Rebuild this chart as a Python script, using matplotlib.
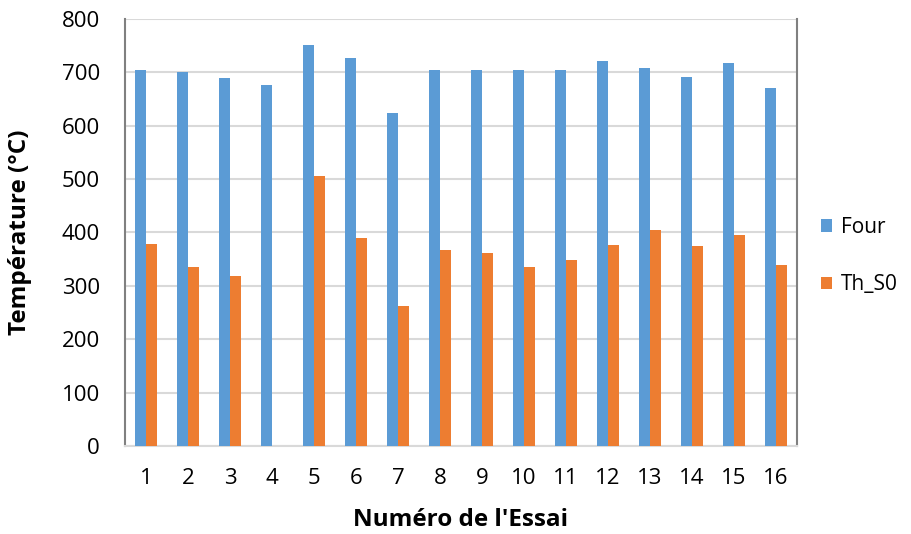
import matplotlib.pyplot as plt
import numpy as np

essais = [str(i) for i in range(1, 17)]
four = [705, 701, 689, 676, 752, 726, 623, 704, 704, 704, 704, 722, 708, 692, 718, 671]
th_s0 = [378, 335, 318, 0, 505, 390, 262, 367, 362, 336, 349, 377, 404, 375, 396, 339]

plt.rcParams['font.family'] = ['Open Sans', 'DejaVu Sans']

fig = plt.figure(figsize=(9.12, 5.34), dpi=100)
ax = fig.add_axes([125 / 912, 1 - 446 / 534, 672 / 912, 427 / 534])

x = np.arange(len(essais))
w = 0.27
ax.bar(x - w / 2, four, w, color='#5b9bd5', label='Four', zorder=3)
ax.bar(x + w / 2, th_s0, w, color='#ed7d31', label='Th_S0', zorder=3)

ax.set_xlim(-0.5, len(essais) - 0.5)
ax.set_ylim(0, 800)
ax.set_yticks(range(0, 801, 100))
ax.set_xticks(x)
ax.set_xticklabels(essais)
ax.yaxis.grid(True, color='#d9d9d9', linewidth=1.5, zorder=0)
ax.tick_params(axis='both', length=0, labelsize=16, colors='#000000')
ax.tick_params(axis='y', pad=18)
ax.tick_params(axis='x', pad=16)

for side in ['left', 'right']:
    ax.spines[side].set_color('#808080')
    ax.spines[side].set_linewidth(1.5)
ax.spines['top'].set_visible(False)
ax.spines['bottom'].set_color('#d9d9d9')
ax.spines['bottom'].set_linewidth(1.5)

ax.set_xlabel("Numéro de l'Essai", fontsize=17.5, fontweight='bold', va='center')
ax.set_ylabel('Température (°C)', fontsize=17.5, fontweight='bold', va='center')
ax.xaxis.set_label_coords(0.5, -0.173)
ax.yaxis.set_label_coords(-0.156, 0.5)

ax.legend(loc='center left', bbox_to_anchor=(1.035, 0.445), frameon=False,
          fontsize=15, handlelength=0.55, handleheight=0.55, labelspacing=1.75,
          handletextpad=0.45, borderaxespad=0, borderpad=0)

fig.savefig('out.png', dpi=100)
